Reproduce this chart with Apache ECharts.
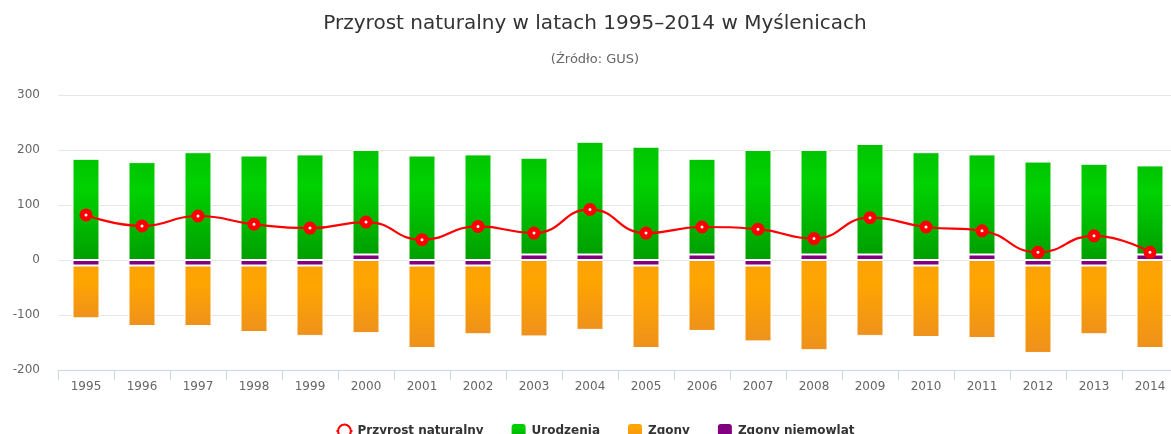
<!DOCTYPE html>
<html>
<head>
<meta charset="utf-8">
<script src="https://cdn.jsdelivr.net/npm/echarts@6/dist/echarts.min.js"></script>
<style>
html,body{margin:0;padding:0;overflow:hidden;background:#fff;}
#chart{width:1190px;height:434px;}
</style>
</head>
<body>
<div id="chart"></div>
<script>
const years = ['1995','1996','1997','1998','1999','2000','2001','2002','2003','2004','2005','2006','2007','2008','2009','2010','2011','2012','2013','2014'];
const przyrost = [82,62,80,65,58,69,37,61,49,92,49,60,56,39,77,60,53,14,44,14];
const urodzenia = [184,178,196,190,192,190,190,192,176,205,206,174,200,190,201,196,182,179,175,162];
const zgony = [-96,-110,-110,-121,-128,-133,-150,-125,-139,-127,-150,-129,-138,-164,-138,-130,-142,-159,-125,-160];
const zgonyNiemowlat = [-10,-10,-10,-10,-10,10,-10,-10,10,10,-10,10,-10,10,10,-10,10,-10,-10,10];
const yTicks = {min:-200, max:300, interval:100};

const FONT = 'DejaVu Sans';
const chart = echarts.init(document.getElementById('chart'), null, {renderer:'canvas'});

function vgrad(cTop, cMid, cBot){
  return {type:'linear', x:0, y:0, x2:0, y2:1, colorStops:[
    {offset:0,color:cTop},{offset:0.3,color:cMid},{offset:1,color:cBot}]};
}

chart.setOption({
  animation:false,
  textStyle:{fontFamily:FONT},
  title:[
    {text:'Przyrost naturalny w latach 1995–2014 w Myślenicach', left:'center', top:9,
     textStyle:{fontFamily:FONT, fontSize:20, fontWeight:'normal', color:'#333'}},
    {text:'(Źródło: GUS)', left:'center', top:48,
     textStyle:{fontFamily:FONT, fontSize:13, fontWeight:'normal', color:'#666'}}
  ],
  legend:{
    data:['Przyrost naturalny','Urodzenia','Zgony','Zgony niemowlat'],
    left:'center', top:417, itemWidth:16, itemHeight:16, itemGap:26,
    textStyle:{fontFamily:FONT, fontSize:12, fontWeight:'bold', color:'#333'}
  },
  grid:{left:58, right:12, top:95, bottom:64},
  xAxis:{
    type:'category', data:years,
    axisLine:{onZero:false, lineStyle:{color:'#ccd6eb'}},
    axisTick:{show:true, length:10, lineStyle:{color:'#ccd6eb'}},
    axisLabel:{color:'#666', fontSize:12, fontFamily:FONT, margin:11}
  },
  yAxis:{
    type:'value', min:yTicks.min, max:yTicks.max, interval:yTicks.interval,
    axisLine:{show:false}, axisTick:{show:false},
    axisLabel:{color:'#666', fontSize:12, fontFamily:FONT, margin:18},
    splitLine:{lineStyle:{color:'#e6e6e6'}}
  },
  series:[
    {name:'Zgony niemowlat', type:'bar', stack:'s', data:zgonyNiemowlat, barWidth:27,
     itemStyle:{color:'#800080', borderColor:'#fff', borderWidth:1}},
    {name:'Urodzenia', type:'bar', stack:'s', data:urodzenia, barWidth:27,
     itemStyle:{color:vgrad('#00c400','#00d200','#009f00'), borderColor:'#fff', borderWidth:1}},
    {name:'Zgony', type:'bar', stack:'s', data:zgony, barWidth:27,
     itemStyle:{color:vgrad('#fba207','#ffa500','#ee911c'), borderColor:'#fff', borderWidth:1}},
    {name:'Przyrost naturalny', type:'line', data:przyrost, smooth:0.5, z:10,
     symbol:'circle', symbolSize:8, showSymbol:true,
     lineStyle:{color:'#ff0000', width:2.2},
     itemStyle:{color:'#ffffff', borderColor:'#ff0000', borderWidth:5}}
  ]
});
</script>
</body>
</html>
